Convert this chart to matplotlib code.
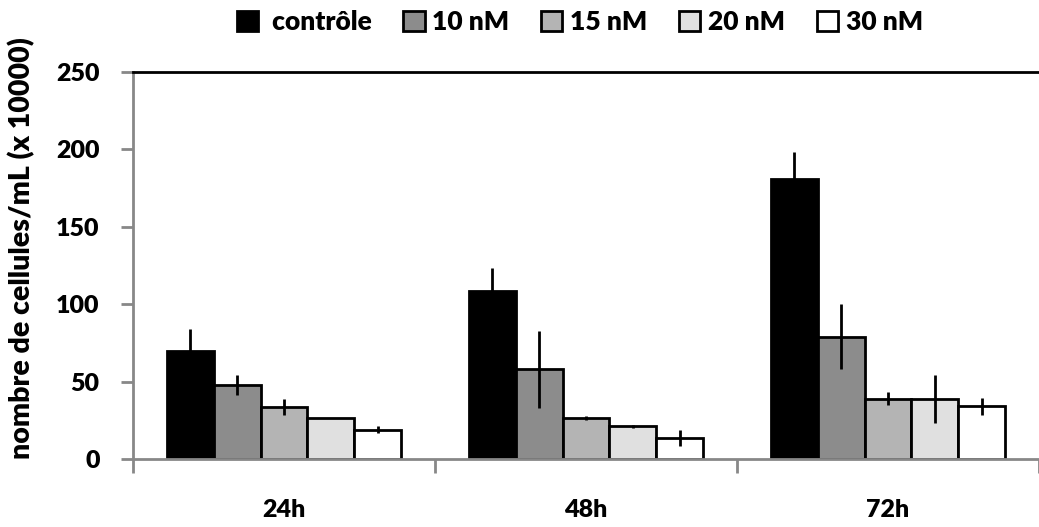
import matplotlib
matplotlib.use("Agg")
import matplotlib.pyplot as plt
import numpy as np

categories = ["24h", "48h", "72h"]
series_names = [" contrôle", "10 nM", "15 nM", "20 nM", "30 nM"]
controle = [70, 108.5, 181]
nm10 = [48, 58, 79]
nm15 = [33.5, 26.5, 39]
nm20 = [26.5, 21, 39]
nm30 = [19, 13.5, 34]
err_controle = [14, 15, 17.5]
err_nm10 = [6.5, 25, 21]
err_nm15 = [5, 1.5, 4]
err_nm20 = [0, 1, 15.5]
err_nm30 = [2, 5, 5.5]
y_ticks = [0, 50, 100, 150, 200, 250]

values = [controle, nm10, nm15, nm20, nm30]
errors = [err_controle, err_nm10, err_nm15, err_nm20, err_nm30]
colors = ["#000000", "#8c8c8c", "#b4b4b4", "#e0e0e0", "#ffffff"]

FW = 'heavy'
plt.rcParams['font.family'] = ['Lato', 'DejaVu Sans']
plt.rcParams['font.weight'] = FW

fig = plt.figure(figsize=(10.39, 5.27), dpi=100)
ax = fig.add_axes([133/1039, 1-459/527, 1-133/1039, (459-72)/527])

x = np.arange(len(categories))
w = 0.155
handles = []
for i, (vals, errs, c, name) in enumerate(zip(values, errors, colors, series_names)):
    b = ax.bar(x + (i-2)*w, vals, w, color=c, edgecolor="black", linewidth=2, label=name, zorder=2)
    ax.errorbar(x + (i-2)*w, vals, yerr=errs, fmt="none", ecolor="black", elinewidth=2, capsize=0, zorder=3)
    handles.append(b)

ax.set_xlim(-0.5, len(categories)-0.5)
ax.set_ylim(0, 250)
ax.set_yticks(y_ticks)
ax.set_yticklabels([str(t) for t in y_ticks], fontsize=18, fontweight=FW)

ax.set_xticks(np.arange(len(categories)+1) - 0.5)
ax.set_xticklabels([])
ax.set_xticks(x, minor=True)
ax.set_xticklabels(categories, minor=True, fontsize=18, fontweight=FW)
ax.tick_params(axis='x', which='minor', length=0, pad=29)
ax.tick_params(axis='x', which='major', length=10, width=2, color="#888888", direction='out')
ax.tick_params(axis='y', length=9, width=2, color="#888888", direction='out', pad=15)

for s in ["left", "bottom"]:
    ax.spines[s].set_color("#888888")
    ax.spines[s].set_linewidth(2)
ax.spines["right"].set_visible(False)
ax.spines["top"].set_color("black")
ax.spines["top"].set_linewidth(2)

fig.text(22/1039, 1-248/527, "nombre de cellules/mL (x 10000)", rotation=90,
         ha='center', va='center', fontsize=20.5, fontweight=FW)

leg = fig.legend(handles=handles, labels=series_names, loc='center', ncol=5,
                 bbox_to_anchor=(580/1039, 1-22/527), frameon=False,
                 prop={'size': 19, 'weight': FW},
                 handlelength=0.8, handleheight=0.8, handletextpad=0.3,
                 columnspacing=1.2, borderaxespad=0)

fig.savefig("out.png", dpi=100)
